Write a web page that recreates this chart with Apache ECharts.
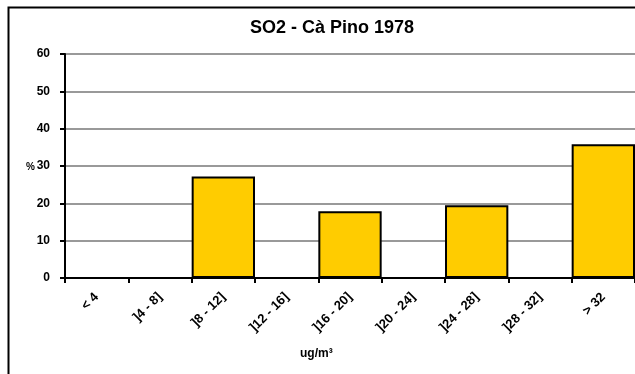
<!DOCTYPE html>
<html>
<head>
<meta charset="utf-8">
<script src="https://cdn.jsdelivr.net/npm/echarts@6/dist/echarts.min.js"></script>
<style>
html,body{margin:0;padding:0;background:#fff;}
#c{width:635px;height:374px;}
</style>
</head>
<body>
<div id="c"></div>
<script>
const titleText = 'SO2 - Cà Pino 1978';
const categories = ['< 4', ']4 - 8]', ']8 - 12]', ']12 - 16]', ']16 - 20]', ']20 - 24]', ']24 - 28]', ']28 - 32]', '> 32'];
const percentValues = [0, 0, 27.2, 0, 17.9, 0, 19.5, 0, 35.8];
const yTicks = [0, 10, 20, 30, 40, 50, 60];
const yAxisName = '%';
const xAxisName = 'ug/m³';

const font = '"Liberation Sans", Arial, sans-serif';
const chart = echarts.init(document.getElementById('c'), null, {renderer: 'canvas'});
chart.setOption({
  animation: false,
  backgroundColor: '#fff',
  title: {
    text: titleText,
    left: 327, top: 14, textAlign: 'center',
    textStyle: {fontFamily: font, fontWeight: 'bold', fontSize: 18, color: '#000'}
  },
  graphic: [{
    type: 'rect', left: 6, top: 5, z: 100, silent: true,
    shape: {x: 0, y: 0, width: 800, height: 600},
    style: {fill: 'none', stroke: '#000', lineWidth: 2}
  }, {
    type: 'text', left: 300, top: 348,
    style: {text: xAxisName, font: 'bold 12px ' + font, fill: '#000'}
  }, {
    type: 'text', left: 26, top: 162,
    style: {text: yAxisName, font: 'bold 10px ' + font, fill: '#000'}
  }],
  grid: {left: 65, top: 54, width: 572, height: 224, containLabel: false},
  xAxis: {
    type: 'category',
    data: categories,
    boundaryGap: true,
    axisLine: {lineStyle: {color: '#000', width: 2}},
    axisTick: {show: true, alignWithLabel: false, length: 5, lineStyle: {color: '#000', width: 2}},
    axisLabel: {rotate: 45, margin: 17, interval: 0, fontFamily: font, fontWeight: 'bold', fontSize: 13, color: '#000'},
    splitLine: {show: false}
  },
  yAxis: {
    type: 'value',
    min: yTicks[0], max: yTicks[yTicks.length - 1], interval: 10,
    axisLine: {show: true, lineStyle: {color: '#000', width: 2}},
    axisTick: {show: true, length: 5, lineStyle: {color: '#000', width: 2}},
    axisLabel: {margin: 15, fontFamily: font, fontWeight: 'bold', fontSize: 12, color: '#000'},
    splitLine: {show: true, lineStyle: {color: '#999', width: 2}}
  },
  series: [{
    type: 'bar',
    data: percentValues,
    barCategoryGap: '0%',
    itemStyle: {color: '#FFCC00', borderColor: '#000', borderWidth: 2},
    emphasis: {disabled: true}
  }]
});
</script>
</body>
</html>
